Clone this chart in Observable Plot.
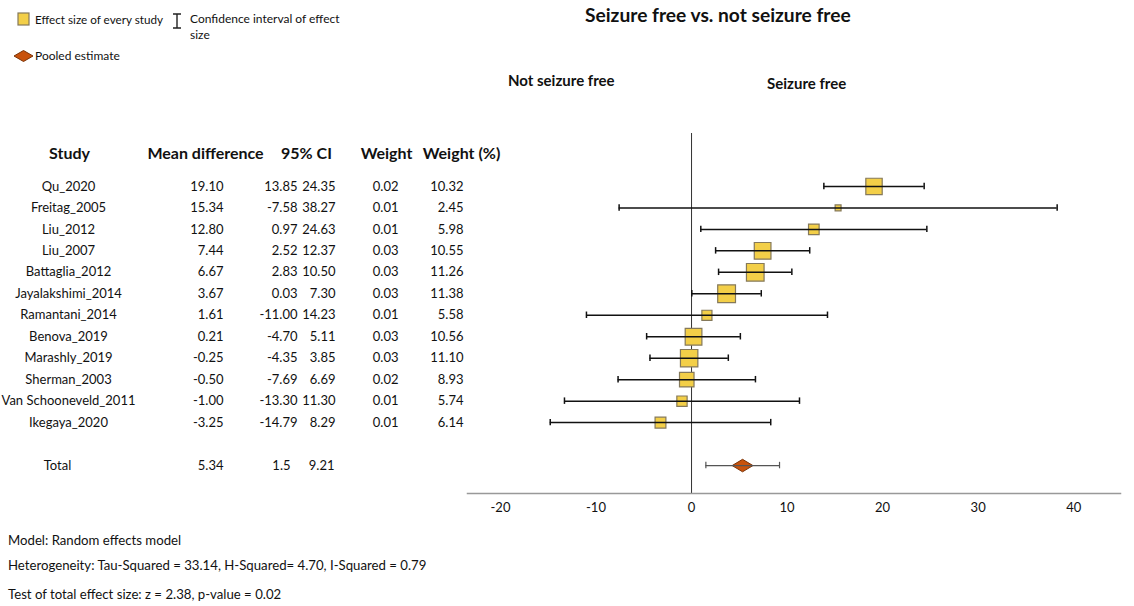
<!DOCTYPE html>
<html><head><meta charset="utf-8">
<script src="https://cdn.jsdelivr.net/npm/d3@7"></script>
<script src="https://cdn.jsdelivr.net/npm/@observablehq/plot@0.6"></script>
<style>
body{margin:0;background:#fff;font-family:Lato,"Open Sans",sans-serif;}
#wrap{position:relative;width:1134px;height:606px;overflow:hidden;background:#fff;}
.abs{position:absolute;white-space:nowrap;color:#111;line-height:16px;}
#plot{position:absolute;left:0;top:120px;}
</style></head><body><div id="wrap">
<svg class="abs" style="left:17px;top:12px" width="13" height="14"><rect x="1" y="1" width="11" height="12" fill="#F3CF48" stroke="#85795A" stroke-width="1.2"/></svg>
<div class="abs" style="left:35px;top:11px;font-size:11.7px">Effect size of every study</div>
<svg class="abs" style="left:171px;top:12px" width="12" height="18"><path d="M2,2H10M6,2V16M2,16H10" stroke="#222" stroke-width="1.4" fill="none"/></svg>
<div class="abs" style="left:190px;top:11px;font-size:12px">Confidence interval of effect</div>
<div class="abs" style="left:190px;top:27px;font-size:12px">size</div>
<svg class="abs" style="left:13px;top:49px" width="21" height="14"><path d="M1,7L10.5,1.5L20,7L10.5,12.5Z" fill="#C8520C" stroke="#7A3306" stroke-width="1"/></svg>
<div class="abs" style="left:35px;top:48px;font-size:12px">Pooled estimate</div>
<div class="abs" style="left:585px;top:7px;font-size:19.2px;font-weight:bold">Seizure free vs. not seizure free</div>
<div class="abs" style="left:508px;top:72px;font-size:15px;font-weight:bold">Not seizure free</div>
<div class="abs" style="left:767px;top:75px;font-size:15px;font-weight:bold">Seizure free</div>
<div id="plot"></div>
<div class="abs" style="left:8px;top:532px;font-size:13.2px">Model: Random effects model</div>
<div class="abs" style="left:8px;top:557px;font-size:13.2px">Heterogeneity: Tau-Squared = 33.14, H-Squared= 4.70, I-Squared = 0.79</div>
<div class="abs" style="left:8px;top:586px;font-size:13.2px">Test of total effect size: z = 2.38, p-value = 0.02</div>
</div>
<script>
// ---- data ----
const studies = ["Qu_2020","Freitag_2005","Liu_2012","Liu_2007","Battaglia_2012","Jayalakshimi_2014","Ramantani_2014","Benova_2019","Marashly_2019","Sherman_2003","Van Schooneveld_2011","Ikegaya_2020"];
const meanDiff = [19.10,15.34,12.80,7.44,6.67,3.67,1.61,0.21,-0.25,-0.50,-1.00,-3.25];
const ciLow = [13.85,-7.58,0.97,2.52,2.83,0.03,-11.00,-4.70,-4.35,-7.69,-13.30,-14.79];
const ciHigh = [24.35,38.27,24.63,12.37,10.50,7.30,14.23,5.11,3.85,6.69,11.30,8.29];
const weight = [0.02,0.01,0.01,0.03,0.03,0.03,0.01,0.03,0.03,0.02,0.01,0.01];
const weightPct = [10.32,2.45,5.98,10.55,11.26,11.38,5.58,10.56,11.10,8.93,5.74,6.14];
const totalLabel = "Total";
const totalMean = 5.34, totalLow = 1.5, totalHigh = 9.21;
const headers = ["Study","Mean difference","95% CI","Weight","Weight (%)"];
const xTicks = [-20,-10,0,10,20,30,40];

// ---- build ----
const rows = studies.map((s,i)=>({study:s, md:meanDiff[i], lo:ciLow[i], hi:ciHigh[i], w:weight[i], wp:weightPct[i]}));
const total = [{study:totalLabel, md:totalMean, lo:totalLow, hi:totalHigh}];
const yDomain = [...studies, " ", totalLabel];

const wideDiamond = {draw(ctx, size){ const r = Math.sqrt(size/Math.PI); const hw = 1.3*r, hh = 0.78*r;
  ctx.moveTo(-hw,0); ctx.lineTo(0,-hh); ctx.lineTo(hw,0); ctx.lineTo(0,hh); ctx.closePath(); }};

const fs = 13;
const colText = (key, dx, fmt, anchor="end", data=rows) => Plot.text(data, {y:"study", text: d => fmt(d[key]), frameAnchor:"left", dx, textAnchor:anchor, fontSize:fs, fill:"#111"});
const f2 = v => v.toFixed(2);

const headerPos = [[-398,"middle"],[-262,"middle"],[-161,"middle"],[-81,"middle"],[-6,"middle"]];
const headerMarks = headers.map((h,i)=>Plot.text([h], {frameAnchor:"top-left", dx:headerPos[i][0], dy:20, lineAnchor:"middle", textAnchor:headerPos[i][1], fontWeight:"bold", fontSize:16, fill:"#111"}));

const chart = Plot.plot({
  width:1134, height:400,
  marginLeft:467, marginRight:14, marginTop:13, marginBottom:27,
  style:{fontFamily:"Lato, 'Open Sans', sans-serif", background:"#fff", overflow:"visible"},
  x:{domain:[-23.45,44.9], ticks:xTicks, tickFormat:d=>String(d), label:null},
  y:{type:"band", domain:yDomain, range:[55.2,355.8], padding:0, round:false, axis:null},
  r:{type:"linear", domain:[0,12], range:[1.5,10.5]},
  marks:[
    Plot.ruleX([0], {stroke:"#333", strokeWidth:1}),
    Plot.frame({anchor:"bottom", stroke:"#999", strokeWidth:1.5}),
    Plot.axisX({ticks:xTicks, tickFormat:d=>String(d), tickSize:0, tickPadding:9, fontSize:13, label:null, fill:"#111"}),
    Plot.dot(rows, {x:"md", y:"study", r:"wp", symbol:"square", fill:"#F3CF48", stroke:"#85795A", strokeWidth:1.2}),
    Plot.ruleY(rows, {y:"study", x1:"lo", x2:"hi", stroke:"#111", strokeWidth:1.5}),
    Plot.tickX(rows, {x:"lo", y:"study", insetTop:7.5, insetBottom:7.5, stroke:"#111", strokeWidth:1.5}),
    Plot.tickX(rows, {x:"hi", y:"study", insetTop:7.5, insetBottom:7.5, stroke:"#111", strokeWidth:1.5}),
    Plot.dot(total, {x:"md", y:"study", r:8, symbol:wideDiamond, fill:"#C8520C", stroke:"#7A3306", strokeWidth:1}),
    Plot.ruleY(total, {y:"study", x1:"lo", x2:"hi", stroke:"#555", strokeWidth:1.2}),
    Plot.tickX(total, {x:"lo", y:"study", insetTop:7.5, insetBottom:7.5, stroke:"#555", strokeWidth:1.2}),
    Plot.tickX(total, {x:"hi", y:"study", insetTop:7.5, insetBottom:7.5, stroke:"#555", strokeWidth:1.2}),
    ...headerMarks,
    colText("study", -399, v=>v, "middle"),
    colText("md", -244, f2),
    colText("lo", -170, f2),
    colText("hi", -132, f2),
    colText("w", -69, f2),
    colText("wp", -4, f2),
    colText("study", -410, v=>v, "middle", total),
    colText("md", -244, String, "end", total),
    colText("lo", -177, String, "end", total),
    colText("hi", -133, String, "end", total)
  ]
});
document.getElementById("plot").appendChild(chart);
</script>
</body></html>
